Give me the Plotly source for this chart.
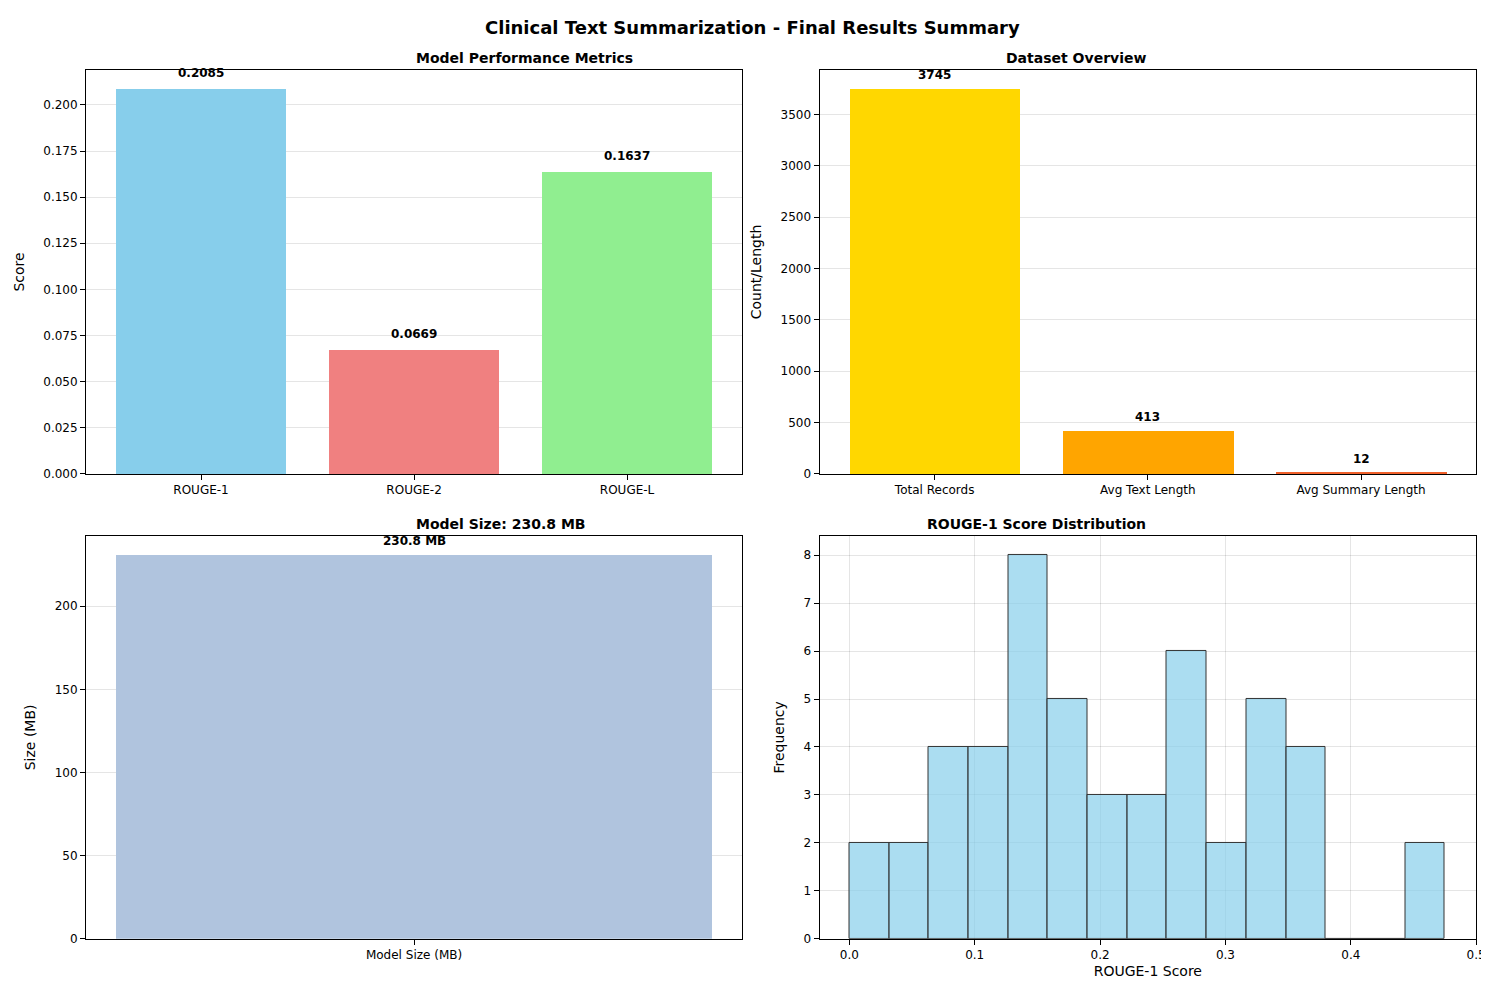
import numpy as np
import plotly.graph_objects as go

metric_names = ["ROUGE-1", "ROUGE-2", "ROUGE-L"]
metric_values = [0.2085, 0.0669, 0.1637]
metric_colors = ["#87CEEB", "#F08080", "#90EE90"]

data_names = ["Total Records", "Avg Text Length", "Avg Summary Length"]
data_values = [3745, 413, 12]
data_colors = ["#FFD700", "#FFA500", "#F0602A"]

size_names = ["Model Size (MB)"]
size_values = [230.8]

hist_edges = list(np.linspace(0.0, 0.475, 16))
hist_counts = [2, 2, 4, 4, 8, 5, 3, 3, 6, 2, 5, 4, 0, 0, 2]

FONT = "DejaVu Sans"
fig = go.Figure()
noline = dict(line=dict(width=0))

fig.add_trace(go.Bar(x=[0, 1, 2], y=metric_values,
                     marker=dict(color=metric_colors, **noline),
                     width=0.8, xaxis="x", yaxis="y"))
fig.add_trace(go.Bar(x=[0, 1, 2], y=data_values,
                     marker=dict(color=data_colors, **noline),
                     width=0.8, xaxis="x2", yaxis="y2"))
fig.add_trace(go.Bar(x=[0], y=size_values,
                     marker=dict(color="#B0C4DE", **noline),
                     width=0.8, xaxis="x3", yaxis="y3"))
centers = [(hist_edges[i] + hist_edges[i + 1]) / 2 for i in range(len(hist_counts))]
widths = [hist_edges[i + 1] - hist_edges[i] for i in range(len(hist_counts))]
fig.add_trace(go.Bar(x=centers, y=hist_counts, width=widths,
                     marker=dict(color="rgba(135,206,235,0.7)",
                                 line=dict(color="#333333", width=1)),
                     xaxis="x4", yaxis="y4"))

ann = []
for i, v in enumerate(metric_values):
    ann.append(dict(x=i, y=v + 0.004, xref="x", yref="y", text=f"<b>{v:.4f}</b>",
                    showarrow=False, yanchor="bottom"))
for i, v in enumerate(data_values):
    ann.append(dict(x=i, y=v + 50, xref="x2", yref="y2", text=f"<b>{v}</b>",
                    showarrow=False, yanchor="bottom"))
ann.append(dict(x=0, y=size_values[0] + 3, xref="x3", yref="y3",
                text=f"<b>{size_values[0]} MB</b>", showarrow=False, yanchor="bottom"))

titles = [("Model Performance Metrics", 0.2727, 0.939),
          ("Dataset Overview", 0.7655, 0.939),
          ("Model Size: 230.8 MB", 0.2727, 0.466),
          ("ROUGE-1 Score Distribution", 0.7655, 0.466)]
for t, x, y in titles:
    ann.append(dict(text=f"<b>{t}</b>", x=x, y=y, xref="paper", yref="paper",
                    showarrow=False, yanchor="bottom", font=dict(size=14)))
ann.append(dict(text="<b>Clinical Text Summarization - Final Results Summary</b>",
                x=0.5, y=0.993, xref="paper", yref="paper", showarrow=False,
                yanchor="top", font=dict(size=18)))

ax = dict(showline=True, mirror=True, linecolor="black", ticks="outside",
          zeroline=False, showgrid=False, tickcolor="black")
grid = dict(showgrid=True, gridcolor="rgba(0,0,0,0.1)")

fig.update_layout(
    width=1489, height=985, showlegend=False, plot_bgcolor="white",
    paper_bgcolor="white", margin=dict(l=0, r=0, t=0, b=0, autoexpand=False),
    bargap=0,
    font=dict(family=FONT, size=12, color="black"), annotations=ann,
    xaxis=dict(ax, domain=[0.0524, 0.493], anchor="y", range=[-0.54, 2.54],
               tickvals=[0, 1, 2], ticktext=metric_names),
    yaxis=dict(ax, **grid, domain=[0.527, 0.937], anchor="x", range=[0, 0.2189],
               dtick=0.025, tickformat=".3f", title="Score"),
    xaxis2=dict(ax, domain=[0.545, 0.986], anchor="y2", range=[-0.54, 2.54],
                tickvals=[0, 1, 2], ticktext=data_names),
    yaxis2=dict(ax, **grid, domain=[0.527, 0.937], anchor="x2", range=[0, 3932],
                dtick=500, title="Count/Length"),
    xaxis3=dict(ax, domain=[0.0524, 0.493], anchor="y3", range=[-0.44, 0.44],
                tickvals=[0], ticktext=size_names),
    yaxis3=dict(ax, **grid, domain=[0.055, 0.464], anchor="x3", range=[0, 242.3],
                dtick=50, title="Size (MB)"),
    xaxis4=dict(ax, **grid, domain=[0.545, 0.986], anchor="y4",
                range=[-0.0238, 0.5], dtick=0.1, tickformat=".1f",
                title=dict(text="ROUGE-1 Score", standoff=4)),
    yaxis4=dict(ax, **grid, domain=[0.055, 0.464], anchor="x4", range=[0, 8.4],
                dtick=1, title="Frequency"),
)

fig.write_html("out.html")
